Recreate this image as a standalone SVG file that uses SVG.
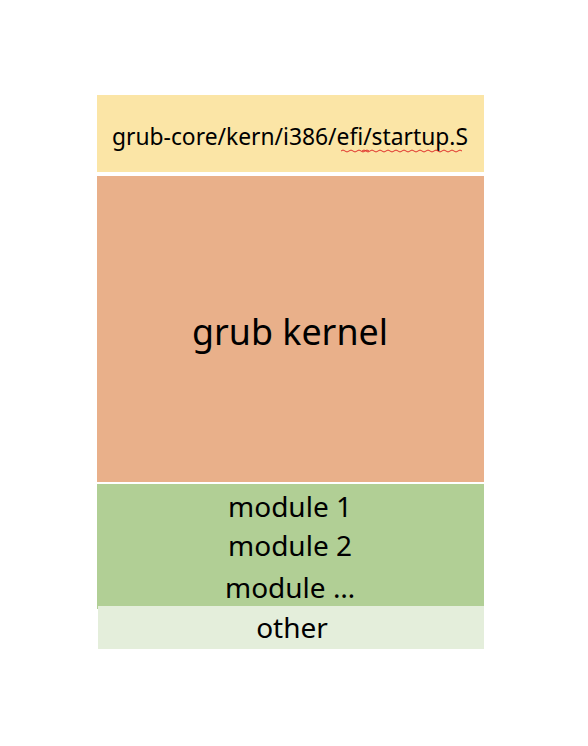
<svg xmlns="http://www.w3.org/2000/svg" width="588" height="746" viewBox="0 0 588 746">
<style>
text{font-family:"Noto Sans","Open Sans",sans-serif;fill:#000;text-anchor:middle}
.t1{font-size:23px}
.t2{font-size:37px}
.t3{font-size:28px}
</style>
<rect width="588" height="746" fill="#fff"/>
<g id="startup">
<rect x="97" y="95" width="387" height="77" fill="#fbe5a6"/>
<text class="t1" x="290" y="145" textLength="356" lengthAdjust="spacingAndGlyphs">grub-core/kern/i386/efi/startup.S</text>
<path d="M341 151 q2 -2 4 0 t4 0 t4 0 t4 0 t4 0 t4 0 t4 0 M362 151 q2 -2 4 0 t4 0 t4 0 t4 0 t4 0 t4 0 t4 0 t4 0 t4 0 t4 0 t4 0 t4 0 t4 0 t4 0 t4 0 t4 0 t4 0 t4 0 t4 0 t4 0 t4 0 t4 0 t4 0 t4 0 t4 0" fill="none" stroke="#e0302a" stroke-width="1"/>
</g>
<g id="kernel">
<rect x="97" y="176" width="387" height="306" fill="#e9b08a"/>
<text class="t2" x="290" y="345" textLength="196" lengthAdjust="spacingAndGlyphs">grub kernel</text>
</g>
<g id="modules">
<rect x="97" y="484" width="387" height="122" fill="#b1cf95"/>
<rect x="97" y="606" width="1" height="3" fill="#b1cf95"/>
<text class="t3" x="290" y="517">module 1</text>
<text class="t3" x="290" y="556">module 2</text>
<text class="t3" x="290" y="598">module …</text>
</g>
<g id="other">
<rect x="98" y="606" width="386" height="43" fill="#e4eedb"/>
<text class="t3" x="292" y="638">other</text>
</g>
<g id="connectors"/>
</svg>
